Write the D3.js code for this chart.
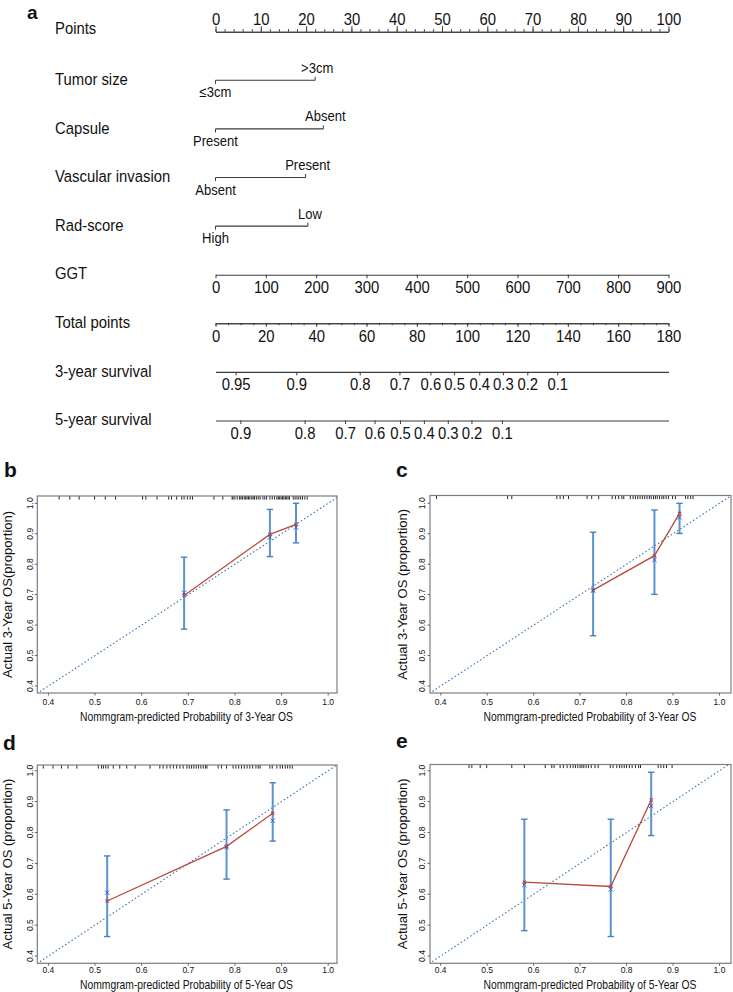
<!DOCTYPE html>
<html>
<head>
<meta charset="utf-8">
<script src="https://cdn.jsdelivr.net/npm/d3@7"></script>
<style>
  body { margin: 0; background: #fff; }
  svg { display: block; }
  text { font-family: "Liberation Sans", Arial, Helvetica, sans-serif; fill: #111; }
</style>
</head>
<body>
<div id="vis"></div>
<script>
// ---------- nomogram (panel a)
var rowLabels = ["Points", "Tumor size", "Capsule", "Vascular invasion", "Rad-score",
                 "GGT", "Total points", "3-year survival", "5-year survival"];
var pointTicks = [0, 10, 20, 30, 40, 50, 60, 70, 80, 90, 100];
var catLevels = [["≤3cm", ">3cm"], ["Present", "Absent"], ["Absent", "Present"], ["High", "Low"]];
var catPoints = [[0, 22], [0, 23.8], [0, 19.9], [0, 20.4]];
var ggtTicks = [0, 100, 200, 300, 400, 500, 600, 700, 800, 900];
var totalTicks = [0, 20, 40, 60, 80, 100, 120, 140, 160, 180];
var surv3Labels = ["0.95", "0.9", "0.8", "0.7", "0.6", "0.5", "0.4", "0.3", "0.2", "0.1"];
var surv3At = [8.0, 32.1, 57.3, 73.1, 85.4, 94.8, 104.8, 114.2, 123.9, 135.8];
var surv5Labels = ["0.9", "0.8", "0.7", "0.6", "0.5", "0.4", "0.3", "0.2", "0.1"];
var surv5At = [9.9, 35.4, 51.5, 63.2, 73.3, 82.8, 92.3, 101.7, 113.8];

// ---------- calibration curves (b-e)
var calTicks = [0.4, 0.5, 0.6, 0.7, 0.8, 0.9, 1.0];

var bPred = [0.691, 0.875, 0.931];
var bObs  = [0.697, 0.898, 0.931];
var bLo   = [0.587, 0.825, 0.870];
var bHi   = [0.823, 0.980, 1.000];
var bCorr = [0.706, 0.888, 0.921];
var bRug  = [0.423, 0.446, 0.466, 0.499, 0.522, 0.544, 0.602, 0.609, 0.633, 0.658, 0.664, 0.675,
             0.686, 0.691, 0.698, 0.704, 0.709, 0.755, 0.774, 0.794, 0.796, 0.800, 0.805, 0.810,
             0.813, 0.816, 0.820, 0.823, 0.826, 0.829, 0.832, 0.836, 0.839, 0.842, 0.846, 0.850,
             0.854, 0.860, 0.864, 0.868, 0.875, 0.880, 0.885, 0.890, 0.893, 0.896, 0.899, 0.902,
             0.905, 0.908, 0.911, 0.914, 0.917, 0.925, 0.929, 0.933, 0.937, 0.941, 0.945, 0.950, 0.955];

var cPred = [0.728, 0.860, 0.914];
var cObs  = [0.715, 0.828, 0.967];
var cLo   = [0.565, 0.701, 0.901];
var cHi   = [0.905, 0.978, 1.000];
var cCorr = [0.713, 0.814, 0.954];
var cRug  = [0.391, 0.544, 0.553, 0.650, 0.657, 0.664, 0.675, 0.715, 0.725, 0.740, 0.769, 0.776,
             0.783, 0.790, 0.794, 0.808, 0.814, 0.819, 0.824, 0.829, 0.834, 0.839, 0.844, 0.849,
             0.853, 0.858, 0.862, 0.866, 0.871, 0.876, 0.880, 0.885, 0.890, 0.899, 0.905, 0.927,
             0.932, 0.938, 0.943];

var dPred = [0.526, 0.782, 0.881];
var dObs  = [0.578, 0.755, 0.862];
var dLo   = [0.463, 0.649, 0.772];
var dHi   = [0.724, 0.873, 0.961];
var dCorr = [0.605, 0.752, 0.838];
var dRug  = [0.389, 0.410, 0.428, 0.442, 0.461, 0.507, 0.514, 0.518, 0.523, 0.528, 0.539, 0.553,
             0.568, 0.586, 0.618, 0.639, 0.646, 0.654, 0.661, 0.668, 0.675, 0.682, 0.689, 0.697,
             0.702, 0.707, 0.712, 0.717, 0.722, 0.727, 0.732, 0.737, 0.740, 0.764, 0.771, 0.782,
             0.796, 0.802, 0.808, 0.814, 0.820, 0.826, 0.832, 0.838, 0.845, 0.850, 0.854, 0.875,
             0.880, 0.890, 0.897, 0.902, 0.908, 0.913, 0.918, 0.923];

var ePred = [0.580, 0.766, 0.853];
var eObs  = [0.639, 0.625, 0.905];
var eLo   = [0.482, 0.463, 0.790];
var eHi   = [0.843, 0.843, 0.995];
var eCorr = [0.630, 0.616, 0.886];
var eRug  = [0.461, 0.467, 0.485, 0.499, 0.553, 0.580, 0.625, 0.639, 0.644, 0.657, 0.664, 0.672,
             0.679, 0.685, 0.690, 0.695, 0.700, 0.704, 0.708, 0.713, 0.718, 0.724, 0.732, 0.739,
             0.765, 0.771, 0.779, 0.785, 0.790, 0.795, 0.800, 0.806, 0.812, 0.819, 0.826, 0.830,
             0.868, 0.874, 0.880, 0.886, 0.898];

var width = 733, height = 992;

var svg = d3.select("#vis")
    .append("svg")
    .attr("width", width)
    .attr("height", height);

var ink = "#3a3a3a";
var squeeze = 0.9;   // the figure's lettering is a little narrow

// text placed with a horizontal squeeze around its anchor point
function label(g, x, y, str, size, anchor) {
    return g.append("text")
        .attr("transform", "translate(" + x + "," + y + ") scale(" + squeeze + ",1)")
        .attr("text-anchor", anchor || "start")
        .attr("dominant-baseline", "central")
        .style("font-size", size)
        .text(str);
}

function styleAxis(g, size) {
    g.attr("font-family", null).attr("font-size", null);
    g.select(".domain").attr("stroke", ink).attr("stroke-width", 1.1);
    g.selectAll(".tick line").attr("stroke", ink).attr("stroke-width", 1);
    g.selectAll(".tick text")
        .style("font-size", size).attr("fill", "#111")
        .attr("transform", "scale(" + squeeze + ",1)");
}

// ---------------- panel a
var nomo = svg.append("g");

nomo.append("text")
    .attr("x", 27).attr("y", 19)
    .style("font-size", "19px").style("font-weight", "bold")
    .text("a");

var xPts = d3.scaleLinear().domain([0, 100]).range([215.5, 668.5]);
var xGgt = d3.scaleLinear().domain([0, 900]).range(xPts.range());
var xTot = d3.scaleLinear().domain([0, 180]).range(xPts.range());

function rowY(i) { return 31.7 + 48.6 * i; }

rowLabels.forEach(function(lab, i) {
    label(nomo, 55, rowY(i) - (i === 0 ? 3 : 1), lab, "16.5px");
});

// Points
var gMinor = nomo.append("g").attr("transform", "translate(0," + rowY(0) + ")")
    .call(d3.axisTop(xPts).tickValues(d3.range(0, 101, 2)).tickFormat("").tickSize(2.5).tickSizeOuter(0));
styleAxis(gMinor, "16.5px");
var gPts = nomo.append("g").attr("transform", "translate(0," + rowY(0) + ")")
    .call(d3.axisTop(xPts).tickValues(pointTicks).tickSize(5.5).tickPadding(1.5).tickSizeOuter(0));
styleAxis(gPts, "16.5px");

// categorical predictors
catLevels.forEach(function(levels, r) {
    var y = rowY(r + 1);
    var pts = catPoints[r];
    var g = nomo.append("g");
    g.append("line")
        .attr("x1", xPts(d3.min(pts))).attr("x2", xPts(d3.max(pts)))
        .attr("y1", y).attr("y2", y)
        .attr("stroke", ink).attr("stroke-width", 1.1);
    levels.forEach(function(lv, k) {
        var dir = k === 0 ? 1 : -1;   // first level below the line, second above
        g.append("line")
            .attr("x1", xPts(pts[k])).attr("x2", xPts(pts[k]))
            .attr("y1", y).attr("y2", y + dir * 3.5)
            .attr("stroke", ink);
        label(g, xPts(pts[k]) + (k === 1 ? 2 : 0), y + dir * 12.3, lv, "14.5px", "middle");
    });
});

// GGT
var gGgt = nomo.append("g").attr("transform", "translate(0," + rowY(5) + ")")
    .call(d3.axisBottom(xGgt).tickValues(ggtTicks).tickSize(3.5).tickPadding(3).tickSizeOuter(0));
styleAxis(gGgt, "16.5px");

// Total points
var gTotMinor = nomo.append("g").attr("transform", "translate(0," + rowY(6) + ")")
    .call(d3.axisBottom(xTot).tickValues(d3.range(0, 181, 5)).tickFormat("").tickSize(2).tickSizeOuter(0));
styleAxis(gTotMinor, "16.5px");
var gTot = nomo.append("g").attr("transform", "translate(0," + rowY(6) + ")")
    .call(d3.axisBottom(xTot).tickValues(totalTicks).tickSize(3.5).tickPadding(3).tickSizeOuter(0));
styleAxis(gTot, "16.5px");

// survival scales
var g3 = nomo.append("g").attr("transform", "translate(0," + rowY(7) + ")")
    .call(d3.axisBottom(xTot).tickValues(surv3At)
        .tickFormat(function(d, i) { return surv3Labels[i]; })
        .tickSize(3.5).tickPadding(3).tickSizeOuter(0));
styleAxis(g3, "16.5px");
var g5 = nomo.append("g").attr("transform", "translate(0," + rowY(8) + ")")
    .call(d3.axisBottom(xTot).tickValues(surv5At)
        .tickFormat(function(d, i) { return surv5Labels[i]; })
        .tickSize(3.5).tickPadding(3).tickSizeOuter(0));
styleAxis(g5, "16.5px");

// ---------------- panels b-e
var panels = [
    { letter: "b", pred: bPred, obs: bObs, lo: bLo, hi: bHi, corr: bCorr, rug: bRug,
      ylab: "Actual 3-Year OS(proportion)", xlab: "Nommgram-predicted Probability of 3-Year OS",
      box: [37.3, 496, 337, 693], xr: [48.4, 328.2], yr: [686, 503.3],
      letterAt: [4, 477], ylabX: 7.5, ytickX: 30, xlabX: 186.5, xlabY: 717, xtickY: 701.7 },
    { letter: "c", pred: cPred, obs: cObs, lo: cLo, hi: cHi, corr: cCorr, rug: cRug,
      ylab: "Actual 3-Year OS (proportion)", xlab: "Nommgram-predicted Probability of 3-Year OS",
      box: [430, 495.5, 731, 693], xr: [440.7, 719.5], yr: [686, 503.3],
      letterAt: [396, 477], ylabX: 402, ytickX: 421.7, xlabX: 590, xlabY: 717, xtickY: 701.7 },
    { letter: "d", pred: dPred, obs: dObs, lo: dLo, hi: dHi, corr: dCorr, rug: dRug,
      ylab: "Actual 5-Year OS (proportion)", xlab: "Nommgram-predicted Probability of 5-Year OS",
      box: [37.3, 765, 337, 963.3], xr: [48.4, 328.2], yr: [956, 770.7],
      letterAt: [3, 750], ylabX: 7.5, ytickX: 30, xlabX: 186.5, xlabY: 985, xtickY: 970 },
    { letter: "e", pred: ePred, obs: eObs, lo: eLo, hi: eHi, corr: eCorr, rug: eRug,
      ylab: "Actual 5-Year OS (proportion)", xlab: "Nommgram-predicted Probability of 5-Year OS",
      box: [430, 764.5, 731, 963.3], xr: [440.7, 719.5], yr: [956, 770.7],
      letterAt: [396, 748], ylabX: 402, ytickX: 421.7, xlabX: 590, xlabY: 985, xtickY: 970 }
];

var barColor = "#5a93cf", redColor = "#b9493c", crossColor = "#3a55d0", diagColor = "#3b78b8";

panels.forEach(function(p, pi) {
    var g = svg.append("g");
    var x = d3.scaleLinear().domain([0.4, 1.0]).range(p.xr);
    var y = d3.scaleLinear().domain([0.4, 1.0]).range(p.yr);
    var L = p.box[0], T = p.box[1], R = p.box[2], B = p.box[3];

    g.append("text")
        .attr("x", p.letterAt[0]).attr("y", p.letterAt[1])
        .style("font-size", "21px").style("font-weight", "bold")
        .text(p.letter);

    var clipId = "clip" + pi;
    g.append("clipPath").attr("id", clipId)
        .append("rect").attr("x", L).attr("y", T).attr("width", R - L).attr("height", B - T);

    // ideal line
    g.append("line")
        .attr("clip-path", "url(#" + clipId + ")")
        .attr("x1", x(0.3)).attr("y1", y(0.3))
        .attr("x2", x(1.1)).attr("y2", y(1.1))
        .attr("stroke", diagColor).attr("stroke-width", 1.1)
        .attr("stroke-dasharray", "1.6,2.2");

    // rug of predicted values along the top
    g.selectAll(".rug").data(p.rug).enter().append("line")
        .attr("x1", function(d) { return x(d); }).attr("x2", function(d) { return x(d); })
        .attr("y1", T).attr("y2", T + 3.6)
        .attr("stroke", "#111").attr("stroke-width", 0.9);

    // error bars
    var idx = d3.range(p.pred.length);
    var bars = g.selectAll(".bar").data(idx).enter().append("g");
    bars.append("line")
        .attr("x1", function(i) { return x(p.pred[i]); }).attr("x2", function(i) { return x(p.pred[i]); })
        .attr("y1", function(i) { return y(p.lo[i]); }).attr("y2", function(i) { return y(p.hi[i]); })
        .attr("stroke", barColor).attr("stroke-width", 2);
    ["lo", "hi"].forEach(function(k) {
        bars.append("line")
            .attr("x1", function(i) { return x(p.pred[i]) - 3.2; })
            .attr("x2", function(i) { return x(p.pred[i]) + 3.2; })
            .attr("y1", function(i) { return y(p[k][i]); })
            .attr("y2", function(i) { return y(p[k][i]); })
            .attr("stroke", "#4a80bd").attr("stroke-width", 1.4);
    });

    // observed line
    var line = d3.line()
        .x(function(i) { return x(p.pred[i]); })
        .y(function(i) { return y(p.obs[i]); });
    g.append("path").datum(idx)
        .attr("d", line)
        .attr("fill", "none").attr("stroke", redColor).attr("stroke-width", 1.3);

    function cross(sel, vals, s, color, w) {
        sel.selectAll(null).data(idx).enter().append("path")
            .attr("d", function(i) {
                var cx = x(p.pred[i]), cy = y(vals[i]);
                return "M" + (cx - s) + "," + (cy - s) + "L" + (cx + s) + "," + (cy + s) +
                       "M" + (cx - s) + "," + (cy + s) + "L" + (cx + s) + "," + (cy - s);
            })
            .attr("stroke", color).attr("stroke-width", w).attr("fill", "none");
    }
    cross(g, p.obs, 1.6, redColor, 1.2);
    cross(g, p.corr, 2.2, crossColor, 0.9);

    // frame
    g.append("rect")
        .attr("x", L).attr("y", T).attr("width", R - L).attr("height", B - T)
        .attr("fill", "none").attr("stroke", "#7d7d7d").attr("stroke-width", 1.2);

    // axes
    g.selectAll(".xt").data(calTicks).enter().append("line")
        .attr("x1", function(d) { return x(d); }).attr("x2", function(d) { return x(d); })
        .attr("y1", B).attr("y2", B + 2.5)
        .attr("stroke", "#666");
    g.selectAll(".xl").data(calTicks).enter().append("text")
        .attr("x", function(d) { return x(d); })
        .attr("y", p.xtickY)
        .attr("text-anchor", "middle").attr("dominant-baseline", "central")
        .style("font-size", "8.5px").attr("fill", "#333")
        .text(d3.format(".1f"));
    g.selectAll(".yt").data(calTicks).enter().append("line")
        .attr("x1", L).attr("x2", L - 2.5)
        .attr("y1", function(d) { return y(d); }).attr("y2", function(d) { return y(d); })
        .attr("stroke", "#666");
    g.selectAll(".yl").data(calTicks).enter().append("text")
        .attr("transform", function(d) { return "translate(" + p.ytickX + "," + y(d) + ") rotate(-90)"; })
        .attr("text-anchor", "middle").attr("dominant-baseline", "central")
        .style("font-size", "8.5px").attr("fill", "#333")
        .text(d3.format(".1f"));

    g.append("text")
        .attr("transform", "translate(" + p.ylabX + "," + ((T + B) / 2) + ") rotate(-90)")
        .attr("text-anchor", "middle").attr("dominant-baseline", "central")
        .style("font-size", "13px")
        .text(p.ylab);
    g.append("text")
        .attr("transform", "translate(" + p.xlabX + "," + p.xlabY + ") scale(0.86,1)")
        .attr("text-anchor", "middle").attr("dominant-baseline", "central")
        .style("font-size", "12px")
        .text(p.xlab);
});
</script>
</body>
</html>
